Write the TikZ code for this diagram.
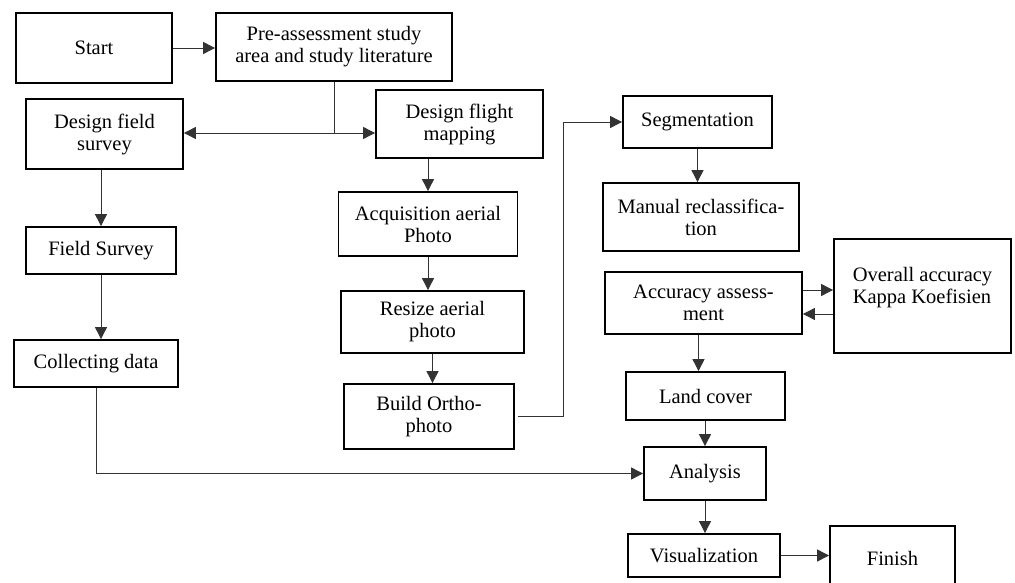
\documentclass[tikz,border=0pt]{standalone}
\usepackage{fontspec}
\setmainfont{Liberation Serif}
\usetikzlibrary{arrows.meta,calc}
\tikzset{
  box/.style={draw=black, line width=1.8pt, rectangle, inner sep=0pt, align=center,
    font=\fontsize{20.5}{22}\selectfont},
  conn/.style={draw=black!80, line width=0.9pt},
  arr/.style={conn, -{Triangle[length=12pt,width=12pt]}},
  plain/.style={inner sep=0pt, font=\fontsize{20.5}{22}\selectfont}
}
\begin{document}
\begin{tikzpicture}[x=1pt,y=-1pt]
\clip (0,0) rectangle (1015,583);
\fill[white] (0,0) rectangle (1015,583);

\node[box, minimum width=156pt, minimum height=70pt] (start) at (94,48) {Start};
\node[box, minimum width=236pt, minimum height=68pt] (pre) at (334,47) {Pre-assessment study\\area and study literature};
\node[box, minimum width=157pt, minimum height=70pt] (dfs) at (104.5,134) {Design field\\survey};
\node[box, minimum width=167pt, minimum height=68pt] (dfm) at (459.5,124) {Design flight\\mapping};
\node[box, minimum width=150pt, minimum height=47pt] (fs) at (101,250.5) {Field Survey};
\node[box, minimum width=164pt, minimum height=47pt] (cd) at (96,363.5) {Collecting data};
\node[box, minimum width=179pt, minimum height=64pt] (acq) at (428,224) {Acquisition aerial\\Photo};
\node[box, minimum width=183pt, minimum height=62pt] (rs) at (432.5,322) {Resize aerial\\photo};
\node[box, minimum width=170pt, minimum height=65pt] (bo) at (429,416.5) {Build Ortho-\\photo};
\node[box, minimum width=149pt, minimum height=52pt] (seg) at (697.5,122) {Segmentation};
\node[box, minimum width=196pt, minimum height=68pt] (man) at (701,217) {Manual reclassifica-\\tion};
\node[box, minimum width=197pt, minimum height=62pt] (acc) at (703.5,303) {Accuracy assess-\\ment};
\node[box, minimum width=177pt, minimum height=114pt] (ov) at (922.5,296) {};
\node[plain, align=left] (ovt) at (922.5,288) {Overall accuracy\\Kappa Koefisien};
\node[box, minimum width=159pt, minimum height=48pt] (lc) at (705.5,396) {Land cover};
\node[box, minimum width=122pt, minimum height=53pt] (an) at (705,473.5) {Analysis};
\node[box, minimum width=152pt, minimum height=43pt] (vis) at (704,555.5) {Visualization};
\node[box, minimum width=125pt, minimum height=64pt] (fin) at (892.5,558) {Finish};

\coordinate (j) at (pre.south |- 0,133);
\coordinate (bend) at (563,0);

\draw[arr] (start.east) -- (start.east -| pre.west);
\draw[conn] (pre.south) -- (j);
\draw[arr] (j) -- (j -| dfs.east);
\draw[arr] (j) -- (j -| dfm.west);
\draw[arr] (dfs.south -| fs.north) -- (fs.north);
\draw[arr] (fs.south) -- (fs.south |- cd.north);
\draw[arr] (cd.south) |- (an.west);
\draw[arr] (acq.north |- dfm.south) -- (acq.north);
\draw[arr] (acq.south) -- (acq.south |- rs.north);
\draw[arr] (rs.south) -- (rs.south |- bo.north);
\draw[arr] ([xshift=3pt]bo.east) -- (bo.east -| bend) |- (seg.west);
\draw[arr] (seg.south) -- (seg.south |- man.north);
\draw[arr] ([yshift=13pt]acc.east) -- ([yshift=13pt]acc.east -| ov.west);
\draw[arr] ([yshift=-11pt]acc.east -| ov.west) -- ([yshift=-11pt]acc.east);
\draw[arr] ([xshift=-5pt]acc.south) -- ([xshift=-5pt]acc.south |- lc.north);
\draw[arr] (an.north |- lc.south) -- (an.north);
\draw[arr] (an.south) -- (an.south |- vis.north);
\draw[arr] (vis.east) -- (vis.east -| fin.west);
\end{tikzpicture}
\end{document}
